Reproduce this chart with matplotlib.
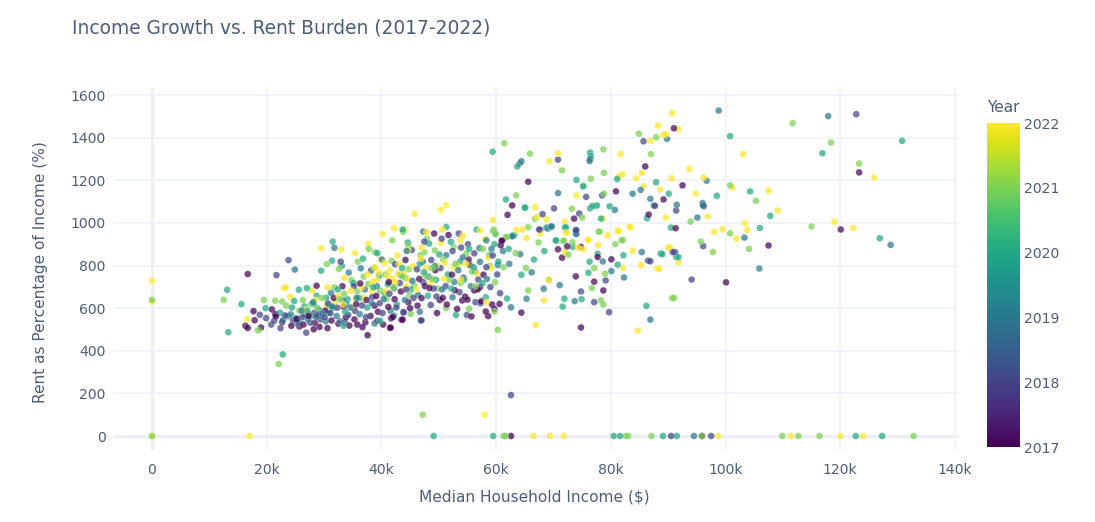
import numpy as np
import matplotlib
matplotlib.use("Agg")
import matplotlib.pyplot as plt
import matplotlib.ticker as mticker

TITLE = "Income Growth vs. Rent Burden (2017-2022)"
X_LABEL = "Median Household Income ($)"
Y_LABEL = "Rent as Percentage of Income (%)"
X_TICKS = [0, 20, 40, 60, 80, 100, 120, 140]
X_TICK_LABELS = ["0", "20k", "40k", "60k", "80k", "100k", "120k", "140k"]
Y_TICKS = [0, 200, 400, 600, 800, 1000, 1200, 1400, 1600]
YEAR_TICKS = [2017, 2018, 2019, 2020, 2021, 2022]

# (income in $k, rent %)
pts_2017 = [(62.6,0),(95.9,0),(120.1,969),(123.3,1237),(91,1444),(92.5,1176),(89.2,1110),(91.3,975),(107.5,894),(100.1,721),
(86,1265),(65.6,1193),(62.8,1082),(62,1038),(73.6,1020),(80.9,1148),(86.6,1039),(70.8,876),(72.4,890),(74.8,887),(71.5,837),
(77.7,840),(80.1,829),(73.9,749),(77.1,724),(78.7,683),(64.4,579),(74.8,509),(61,917),(61,915),(60.8,895),(49.2,950),(51.7,943),
(16.7,760),(17.7,586),(17.9,543),(16.3,517),(16.7,507),(19,509),(20.9,594),(21.5,572),(28.7,705),(28.2,501),(25.7,514),(37.6,473),
(41.5,507),(35.8,523),(42,559),(43.5,545),(45,600),(41.6,509),(43.7,546),(54.1,636),(55,640),(58.2,584),(59.7,596),(60.6,620),
(57.2,699),(56.2,683),(47,647),(50.7,648),
(21.6,561),(22.7,534),(24.3,517),(25.2,548),(26.4,523),(27.3,563),(28.4,531),(29.2,512),(30.6,506),(31.3,542),(32.5,527),(33.8,557),
(34.4,518),(35.3,547),(36.7,511),(37.2,533),(38.1,563),(39.4,583),(40.3,523),(41.7,552),(28.9,566),(30.2,588),(33.4,607),(35.6,618),
(37.4,638),(38.8,612),(39.1,657),(41.2,606),(42.3,642),(43.4,678),(44.7,628),(46.3,612),(47.6,703),(48.4,694),(49.7,577),(50.2,638),
(51.4,617),(52.8,684),(53.2,596),(54.6,654),(55.7,561),(56.8,688),(57.4,632),(58.6,563),(59.3,617),(57.8,757),(55.2,828),(52.3,757),
(49.4,778),(46.6,737),(44.2,826),(41.3,722),(36.3,716),(33.2,703),(31.7,648)]

pts_2018 = [(90.5,0),(97.5,0),(62.6,192),(122.8,1510),(96.2,1078),(91.4,1058),(87.7,1080),(96.1,891),(91.2,863),(86.9,820),(94.1,734),
(85.7,1383),(70.8,1297),(75.7,1122),(78.5,1129),(70.1,1068),(68.1,1041),(74.5,1044),(67.7,967),(74,967),(67.5,969),(73.9,965),
(79.7,581),(79.1,730),(74.8,678),(77.1,628),(86.5,823),(90.8,863),(53.5,950),(47.5,912),(50.5,926),(53.9,884),(55.1,900),
(21.7,755),(23.8,825),(32.9,818),(18.8,569),(19.9,553),(20.8,523),(22.4,506),(26.9,485),(43.8,580),(47,543),(43.9,581),(46.9,542),
(54.9,568),(56.4,628),(57.3,623),(60.7,670),(59,699),(48.6,615),(49.6,655),(53.6,675),
(21.3,541),(23.2,566),(24.6,543),(25.4,527),(26.2,557),(27.6,532),(28.3,578),(29.4,547),(30.7,622),(31.1,577),(32.3,602),(33.6,533),
(34.2,568),(35.4,587),(36.6,613),(37.3,558),(38.4,652),(39.7,623),(40.2,577),(41.4,668),(42.6,603),(43.2,718),(44.3,688),(45.6,648),
(46.2,782),(47.3,722),(48.7,826),(50.3,788),(51.2,703),(52.4,868),(54.3,743),(55.4,803),(56.2,857),(58.3,792),(59.4,847),(60.2,758),
(38.2,777),(35.2,703),(42.4,806),(45.3,873),(49.1,692),(56.9,734),(39.3,541),(30.1,557)]

pts_2019 = [(94.5,0),(98.8,1527),(117.9,1501),(128.8,897),(103.3,931),(89.8,1394),(96.7,1198),(86.9,1113),(87.5,1082),(91.5,1085),
(96,1093),(96.1,1082),(95.1,1025),(105.9,786),(86.9,546),(64.1,1278),(64.4,1289),(76.4,1300),(76.3,1290),(70.8,1140),
(83.8,1137),(85.2,1155),(80.7,1061),(69.7,983),(74,948),(62.8,937),(68.8,978),(69.6,984),(73.9,950),(78.6,819),(85.4,863),
(80.1,774),(82.3,744),(71.1,708),(68.3,691),(65.3,644),(73.7,633),(62.6,604),(47.3,959),(57.1,882),(58.3,918),(31.8,883),(24.9,781),
(38.8,528),(46.7,583),(52.4,651),
(22.8,543),(23.7,562),(24.2,571),(25.6,533),(26.1,588),(27.2,548),(27.8,566),(28.6,558),(29.1,593),(30.3,538),(31.4,608),(32.2,563),
(33.3,637),(34.6,603),(35.7,648),(36.2,572),(37.1,688),(38.3,622),(39.2,703),(40.4,642),(41.6,588),(42.2,693),(43.3,757),(44.1,638),
(45.4,728),(46.4,662),(47.2,818),(48.2,748),(49.3,797),(50.6,688),(51.3,848),(52.7,723),(53.4,778),(54.2,838),(55.6,703),(56.3,772),
(57.2,817),(58.4,737),(59.2,878),(60.3,803),(61.2,868),(62.3,808),(64.2,853),(66.2,768),(34.3,767),(36.4,787),(40.1,828),(44.4,868),
(28.1,628),(31.2,672),(25.1,552),(26.7,567),(29.7,573),(32.8,538)]

pts_2020 = [(49.1,0),(59.5,0),(80.5,0),(81.6,0),(89.1,0),(91.5,0),(122.7,0),(127.3,0),(100.8,1407),(116.9,1327),(130.8,1385),(104.3,1148),
(98.5,1127),(107.8,1033),(106,976),(126.9,928),(89,853),(91.8,839),(87.9,1191),(90.1,1137),(90.5,978),(59.4,1334),(63.7,1265),(76.4,1330),
(76.5,1314),(74,1202),(81.1,1206),(75.2,1171),(61.7,1110),(65.1,1071),(76.4,1069),(76.8,1080),(77.6,1082),(79.8,1078),(78.3,1020),(69,973),
(72.2,978),(59.9,947),(63.2,943),(70.5,917),(72,980),(70.4,918),(73.4,887),(77.7,855),(88.7,856),(82.2,848),(81.2,804),(91.4,840),(76.3,818),
(76.1,766),(61.9,645),(71.9,644),(74.9,642),(71.6,607),(86.2,611),(65,1072),(86.3,1022),(51.3,981),(43.7,969),(56.6,969),(52.1,911),(59.7,900),
(62.9,940),(13.1,686),(13.3,487),(15.6,619),(22.8,383),(31.5,912),(25.6,686),(27,694),(29.5,776),(31.4,823),(19.8,600),(33.4,517),(39.8,540),
(42.2,565),(53,568),(58.2,651),
(22.3,578),(24.4,603),(25.3,553),(26.6,608),(27.4,572),(28.2,622),(29.3,568),(30.4,648),(31.6,602),(32.4,688),(33.7,583),(34.1,642),(35.1,718),
(36.1,647),(37.5,603),(38.6,698),(39.6,752),(40.6,668),(41.1,712),(42.7,618),(43.6,788),(44.2,742),(45.2,688),(46.7,808),(47.4,768),(48.1,658),
(49.5,733),(50.1,852),(51.6,758),(52.2,692),(53.7,818),(54.4,733),(55.3,878),(56.1,792),(57.6,718),(58.8,848),(60.4,818),(62.2,878),(64.4,757),
(66.6,828),(68.4,868),(33.1,798),(36.8,832),(39.3,858),(44.6,908),(48.3,903),(28.7,658),(24.8,633),(27.1,588),(30.8,578),(33.9,622)]

pts_2021 = [(0,639),(0,0),(47.2,100),(61.3,0),(61.6,0),(82.6,0),(83,0),(87.1,0),(95.9,0),(109.9,0),(112.7,0),(116.4,0),(132.8,0),(111.7,1468),(118.4,1377),
(123.3,1279),(100.8,1176),(105.3,1104),(100.8,951),(115,983),(95.7,913),(97.8,863),(104.1,878),(91,648),(87.9,1402),(87,1322),(93.9,1006),
(61.4,1374),(65.9,1325),(71.5,1246),(78.7,1345),(84.9,1418),(78.8,1235),(76.5,1207),(75.2,1175),(78.8,1137),(63.5,1129),(73.2,1066),(66.8,1020),
(75,1025),(77.3,1078),(65.6,980),(78.1,958),(82.1,920),(59.5,961),(61.8,932),(71.8,917),(77.9,959),(80.8,900),(81.9,918),(71.7,915),(73.3,909),
(72.6,851),(77.1,788),(79,761),(69.2,733),(65.6,683),(76.7,694),(78.3,636),(78.7,617),(90.7,647),(60.3,498),(59.6,969),(59.9,950),(47.9,926),
(52.6,887),(61.8,934),(44.7,892),(49.3,871),(47.5,862),(12.5,639),(22.1,338),(19.5,638),(21.5,635),(22.7,631),(18.5,496),(30.5,807),(32.6,784),
(45.1,573),(51.3,600),(55.3,597),(59.7,584),
(23.4,612),(25.7,588),(26.3,638),(27.7,617),(28.8,602),(29.6,648),(30.9,613),(31.8,697),(32.7,642),(33.5,668),(34.8,732),(35.8,678),(36.9,748),
(37.7,713),(38.7,788),(39.8,682),(40.7,758),(41.8,822),(42.1,698),(43.7,748),(44.8,783),(45.7,707),(46.8,848),(47.7,752),(48.8,788),(49.8,692),
(50.8,828),(51.8,733),(52.9,808),(53.8,718),(54.8,857),(55.8,772),(56.4,703),(57.7,878),(58.9,798),(59.8,722),(61.3,792),(63.4,858),(65.2,788),
(67.4,908),(35.9,818),(38.9,862),(41.9,918),(37.8,878),(43.8,958),(40.9,643),(44.9,662),(48.9,737)]

pts_2022 = [(0,729),(0,630),(0,0),(17,0),(58,100),(66.5,0),(69.4,0),(71.8,0),(98.7,0),(111.4,0),(120,0),(124,0),(103.1,1323),(125.9,1213),(101.2,1166),(107.5,1151),
(109.1,1058),(103.4,998),(103.8,967),(99.5,970),(98,958),(101.9,926),(119,1005),(122.3,976),(90.3,885),(91.8,814),(88.4,784),(90.7,1516),(88.2,1457),
(91.8,1440),(89.1,1414),(89.6,1416),(86.9,1385),(93.7,1254),(90.6,1210),(96.2,1213),(88.6,1157),(94.8,1138),(89.6,1025),(96.9,1030),(70.8,1327),(69.3,1290),
(81.7,1323),(81.4,1218),(82,1228),(84.4,1210),(85.4,1235),(74,1129),(85.7,1171),(66.8,1074),(67.2,1028),(68.8,1017),(72,1006),(78.6,1020),(59.5,1013),
(67.7,950),(72.3,954),(79.4,942),(81.4,961),(83.4,980),(63.5,967),(64.6,969),(58.1,925),(65.3,929),(76.1,920),(72.2,956),(81.2,964),
(83.3,981),(76,920),(74.3,884),(75.2,876),(77.8,895),(72,863),(83.8,870),(90,884),(82.1,788),(85.3,802),(88.1,786),(69.2,733),(68.3,636),(66.9,521),
(84.7,494),(50.4,1061),(51.3,1083),(42.2,975),(44.1,969),(47.9,956),(50.6,969),(54.2,940),(57.2,965),(50.4,906),(53.8,918),(47,884),(44.6,871),(58.3,628),
(16.6,548),(29.5,881),(23,694),(23.3,697),(24.1,653),(27.9,682),(33,875),
(26.8,592),(28.5,638),(30.5,612),(31.9,627),(32.6,658),(33.3,618),(34.7,682),(35.5,642),(36.5,698),(37.6,758),(38.5,722),(38.9,792),(39.5,768),(39.9,828),
(40.8,678),(40.6,812),(41.4,778),(41.9,738),(42.8,848),(42.9,762),(43.1,808),(44.3,702),(44.5,738),(45.5,797),(46.1,688),(46.9,832),(47.8,788),(48.6,722),
(49.6,802),(50.9,738),(51.1,813),(52.6,792),(53.3,798),(53.9,733),(54.7,808),(55.5,797),(56.7,762),(58.7,838),(59.1,788),(35.4,858),(37.7,902),(40.2,948),
(45.8,1042),(30.6,698),(33.6,742),(39.2,733),(41.1,752),(42.4,722),(43.9,767),(38.3,683),(36.9,648),(34.9,603)]

all_pts = [(x, y, yr) for yr, pts in zip(YEAR_TICKS, [pts_2017, pts_2018, pts_2019, pts_2020, pts_2021, pts_2022]) for x, y in pts]
income = np.array([p[0] for p in all_pts]) * 1000
rent = np.array([p[1] for p in all_pts])
year = np.array([p[2] for p in all_pts])
# mixed, fixed drawing order so no year sits wholly on top
order = np.argsort((np.arange(len(all_pts)) * 211) % 997)

TXT = "#4b5d7a"
W, H = 1095, 522
fig = plt.figure(figsize=(W/100, H/100), dpi=100, facecolor="white")
L, R, T, B = 114, 958, 88, 450
ax = fig.add_axes([L/W, 1-B/H, (R-L)/W, (B-T)/H])
x_per_px = 1000/5.735
y_per_px = 1/0.2131
ax.set_xlim((L-152)*x_per_px, (R-152)*x_per_px)
ax.set_ylim((436-B)*y_per_px, (436-T)*y_per_px)
for s in ax.spines.values():
    s.set_visible(False)
ax.set_axisbelow(True)
ax.grid(True, color="#eef1f8", lw=1.1)
ax.axhline(0, color="#e6ebf6", lw=2.2, zorder=0.5)
ax.axvline(0, color="#e6ebf6", lw=2.2, zorder=0.5)
ax.scatter(income[order], rent[order], c=year[order], cmap="viridis", vmin=2017, vmax=2022,
           s=24, alpha=0.72, edgecolors="white", linewidths=0.2, zorder=3)
ax.set_xticks([v*1000 for v in X_TICKS], X_TICK_LABELS)
ax.set_yticks(Y_TICKS)
ax.tick_params(length=0, labelsize=10.1, labelcolor=TXT, pad=9)
ax.tick_params(axis="y", pad=6)
fig.text(534.5/W, 1-497/H, X_LABEL, ha="center", va="center", fontsize=11.1, color=TXT)
fig.text(41/W, 1-272/H, Y_LABEL, ha="center", va="center", rotation=90, fontsize=11.1, color=TXT)
fig.text(72/W, 1-28/H, TITLE, ha="left", va="center", fontsize=13.45, color=TXT)

cax = fig.add_axes([987/W, 1-447/H, 33/W, 324/H])
cb = fig.colorbar(plt.cm.ScalarMappable(norm=plt.Normalize(2017, 2022), cmap="viridis"), cax=cax, ticks=YEAR_TICKS)
cb.outline.set_visible(False)
cax.tick_params(length=0, labelsize=10.1, labelcolor=TXT, pad=3)
cax.yaxis.set_major_formatter(mticker.FormatStrFormatter("%d"))
fig.text(987/W, 1-108/H, "Year", ha="left", va="center", fontsize=11.1, color=TXT)

fig.savefig("out.png", dpi=100)
